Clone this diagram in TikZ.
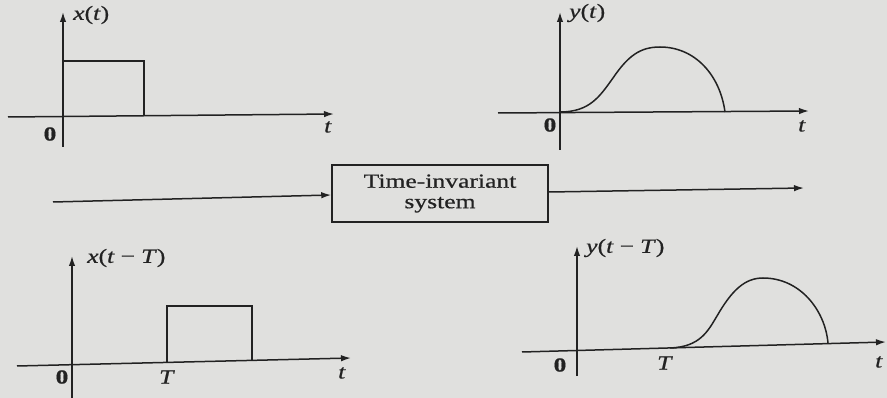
\documentclass[tikz,border=0pt]{standalone}
\usepackage{fontspec}
\setmainfont[FakeStretch=1.28,FakeBold=0.6]{Liberation Serif}
\usetikzlibrary{arrows.meta}
\definecolor{paper}{RGB}{224,224,222}
\definecolor{ink}{RGB}{34,34,34}
\begin{document}
\begin{tikzpicture}[x=1pt,y=-1pt,
  ln/.style={draw=ink,line width=1.5pt},
  axis/.style={ln,-{Latex[length=10pt,width=6.5pt]}},
  lbl/.style={inner sep=0pt,text=ink,font=\fontsize{20}{22}\selectfont},
  sysbox/.style={ln,minimum width=216pt,minimum height=57pt,align=center,inner sep=0pt,text=ink,font=\fontsize{20}{20.5}\selectfont}]
\fill[paper] (0,0) rectangle (887,398);
\useasboundingbox (0,0) rectangle (887,398);

% ---- top-left: x(t)
\coordinate (a1s) at (63,147); \coordinate (a1e) at (63,12);
\coordinate (h1s) at (8,117); \coordinate (h1e) at (334,114);
\draw[axis] (a1s) -- (a1e);
\draw[axis] (h1s) -- (h1e);
\draw[ln] (63,116) -- (63,61) -- (144,61) -- (144,116);
\node[lbl,anchor=west] (lx) at (73,15) {\textit{x}(\textit{t})};
\node[lbl] (lt1) at (328,127) {\textit{t}};
\node[lbl] (lo1) at (50,134) {\textbf{0}};

% ---- top-right: y(t)
\coordinate (a2s) at (560,150); \coordinate (a2e) at (560,12);
\coordinate (h2s) at (498,113); \coordinate (h2e) at (809,111);
\draw[axis] (a2s) -- (a2e);
\draw[axis] (h2s) -- (h2e);
\draw[ln] (560,112) .. controls (590,112) and (600,96) .. (613,78)
  .. controls (628,56) and (640,47) .. (660,47)
  .. controls (695,47) and (720,75) .. (725,112);
\node[lbl,anchor=west] (ly) at (569,13) {\textit{y}(\textit{t})};
\node[lbl] (lt2) at (802,126) {\textit{t}};
\node[lbl] (lo2) at (550,125) {\textbf{0}};

% ---- middle: system
\node[sysbox] (sys) at (440,193.5) {Time-invariant\\system};
\coordinate (in) at (53,202);
\coordinate (out) at (804,188);
\draw[axis] (in) -- (sys.west |- 0,195);
\draw[axis] (sys.east |- 0,192) -- (out);

% ---- bottom-left: x(t-T)
\coordinate (a3s) at (72,400); \coordinate (a3e) at (72,256);
\coordinate (h3s) at (17,366); \coordinate (h3e) at (351,358);
\draw[axis] (a3s) -- (a3e);
\draw[axis] (h3s) -- (h3e);
\draw[ln] (167,363) -- (167,306) -- (252,306) -- (252,360);
\node[lbl,anchor=west] (lxd) at (87,258) {\textit{x}(\textit{t}\hspace{6pt}−\hspace{6pt}\textit{T})};
\node[lbl] (lt3) at (342,373) {\textit{t}};
\node[lbl] (lo3) at (62,377) {\textbf{0}};
\node[lbl] (lT3) at (167,377) {\textit{T}};

% ---- bottom-right: y(t-T)
\coordinate (a4s) at (577,376); \coordinate (a4e) at (577,246);
\coordinate (h4s) at (522,352); \coordinate (h4e) at (886,342);
\draw[axis] (a4s) -- (a4e);
\draw[axis] (h4s) -- (h4e);
\draw[ln] (670,348) .. controls (700,347) and (708,331) .. (717,316)
  .. controls (732,290) and (745,278) .. (763,278)
  .. controls (800,278) and (825,310) .. (828,343);
\node[lbl,anchor=west] (lyd) at (586,248) {\textit{y}(\textit{t}\hspace{6pt}−\hspace{6pt}\textit{T})};
\node[lbl] (lt4) at (879,362) {\textit{t}};
\node[lbl] (lo4) at (560,365) {\textbf{0}};
\node[lbl] (lT4) at (665,363) {\textit{T}};
\end{tikzpicture}
\end{document}
